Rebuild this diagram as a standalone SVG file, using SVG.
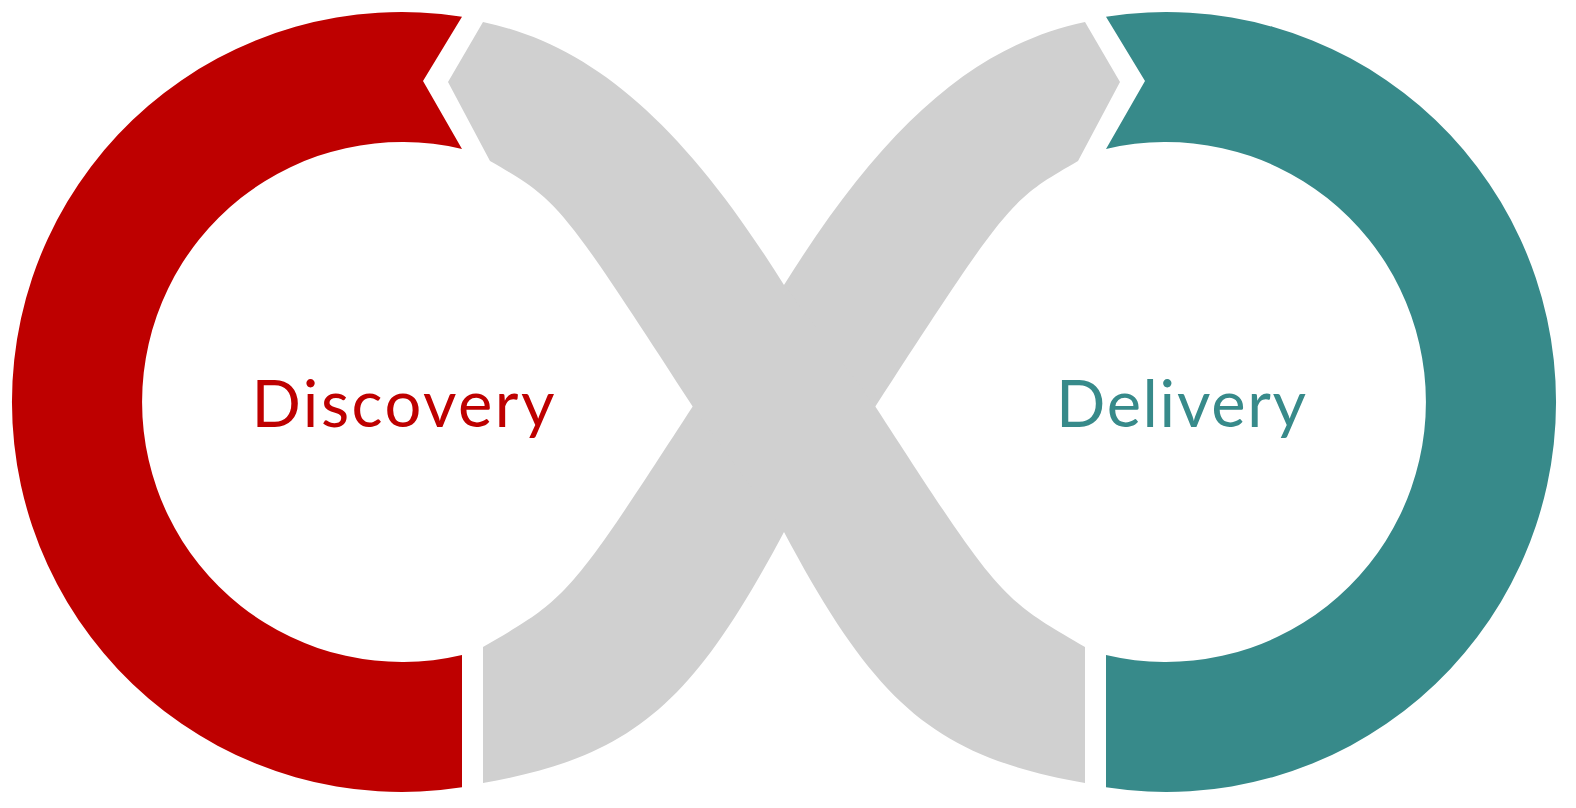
<svg xmlns="http://www.w3.org/2000/svg" width="1576" height="808" viewBox="0 0 1576 808">
  <style>
    .red { fill: #be0000; }
    .teal { fill: #378a8a; }
    .band { fill: #d0d0d0; }
    .label { font-family: Lato, "Open Sans", "Liberation Sans", sans-serif; font-size: 65px; text-anchor: middle; }
  </style>
  <defs>
    <path id="ring" d="M462,16.65 A390,390 0 1,0 462,787.35 L462,655 A260,260 0 1,1 462,149 L423,81 Z"/>
    <path id="bandShape" d="M483,647 C568.6,597.6 568.6,597.6 693,406 L784,285 C884.4,124.4 974.8,45.4 1085,22 L1120,82 L1078,161 C1008.9,200.9 1008.9,200.9 875,407 L784,532 C691.3,706.6 631.1,756.8 483,783 Z"/>
  </defs>
  <rect width="1576" height="808" fill="#ffffff"/>
  <g id="connectors">
    <use href="#bandShape" class="band"/>
    <use href="#bandShape" class="band" transform="translate(1568,0) scale(-1,1)"/>
  </g>
  <g id="node-discovery">
    <use href="#ring" class="red"/>
    <text class="label red" x="403" y="427" textLength="303" lengthAdjust="spacing">Discovery</text>
  </g>
  <g id="node-delivery">
    <use href="#ring" class="teal" transform="translate(1568,0) scale(-1,1)"/>
    <text class="label teal" x="1181" y="427" textLength="250" lengthAdjust="spacing">Delivery</text>
  </g>
</svg>
